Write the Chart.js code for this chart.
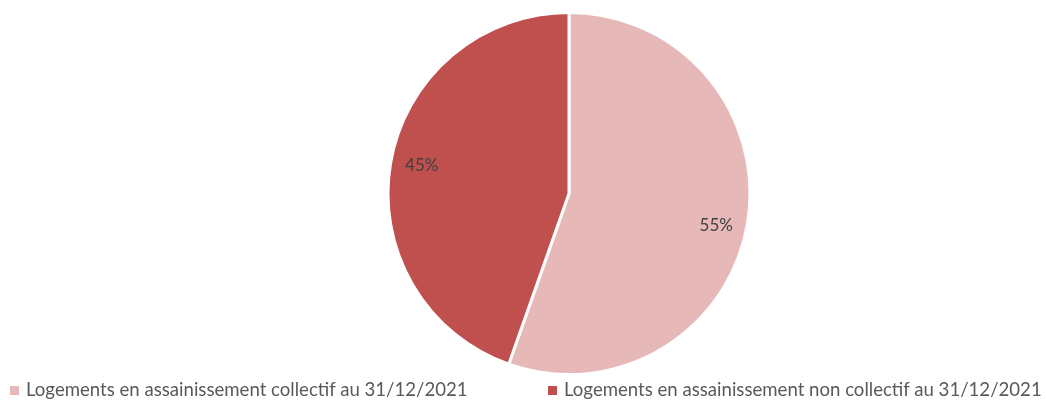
<!DOCTYPE html>
<html>
<head>
<meta charset="utf-8">
<script src="https://cdn.jsdelivr.net/npm/chart.js@4"></script>
<style>
  html, body { margin: 0; padding: 0; background: #fff; }
  #wrap { position: relative; width: 1046px; height: 400px; }
  #legend { position: absolute; left: 0; top: 378px; width: 1046px; height: 22px;
    font-family: Lato, sans-serif; font-size: 18.6px; color: #595959; }
  .item { position: absolute; top: 0; white-space: nowrap; }
  .box { display: inline-block; width: 9px; height: 9px; margin-right: 7px; vertical-align: 1px; }
</style>
</head>
<body>
<div id="wrap">
  <canvas id="pieChart" width="1046" height="400"></canvas>
  <div id="legend"></div>
</div>
<script>
var categories = ['Logements en assainissement collectif au 31/12/2021', 'Logements en assainissement non collectif au 31/12/2021'];
var shares = [55.4, 44.6];
var colors = ['#E6B9B8', '#C0504D'];
var legendLeft = [10, 548];

// percent labels inside the slices
var sliceLabels = {
  id: 'sliceLabels',
  afterDatasetsDraw: function (chart) {
    var ctx = chart.ctx;
    var meta = chart.getDatasetMeta(0);
    var total = shares.reduce(function (a, b) { return a + b; }, 0);
    ctx.save();
    ctx.font = '17px Lato, sans-serif';
    ctx.fillStyle = '#404040';
    ctx.textAlign = 'center';
    ctx.textBaseline = 'middle';
    meta.data.forEach(function (arc, i) {
      var p = arc.getProps(['x', 'y', 'startAngle', 'endAngle', 'outerRadius'], true);
      var mid = (p.startAngle + p.endAngle) / 2 + 0.03;
      var r = p.outerRadius * 0.83;
      var txt = Math.round(shares[i] / total * 100) + '%';
      ctx.fillText(txt, p.x + Math.cos(mid) * r, p.y + Math.sin(mid) * r + 2);
    });
    ctx.restore();
  }
};

document.addEventListener('DOMContentLoaded', function () {
  var ctx = document.getElementById('pieChart').getContext('2d');
  new Chart(ctx, {
    type: 'pie',
    data: {
      labels: categories,
      datasets: [{
        data: shares,
        backgroundColor: colors,
        borderColor: '#ffffff',
        borderWidth: 3
      }]
    },
    options: {
      responsive: false,
      animation: false,
      layout: { padding: { left: 92, right: 0, top: 11, bottom: 24 } },
      plugins: {
        legend: { display: false },
        tooltip: { enabled: false }
      }
    },
    plugins: [sliceLabels]
  });

  var legend = document.getElementById('legend');
  categories.forEach(function (c, i) {
    var item = document.createElement('span');
    item.className = 'item';
    item.style.left = legendLeft[i] + 'px';
    item.innerHTML = '<span class="box" style="background:' + colors[i] + '"></span>' + c;
    legend.appendChild(item);
  });
});
</script>
</body>
</html>
